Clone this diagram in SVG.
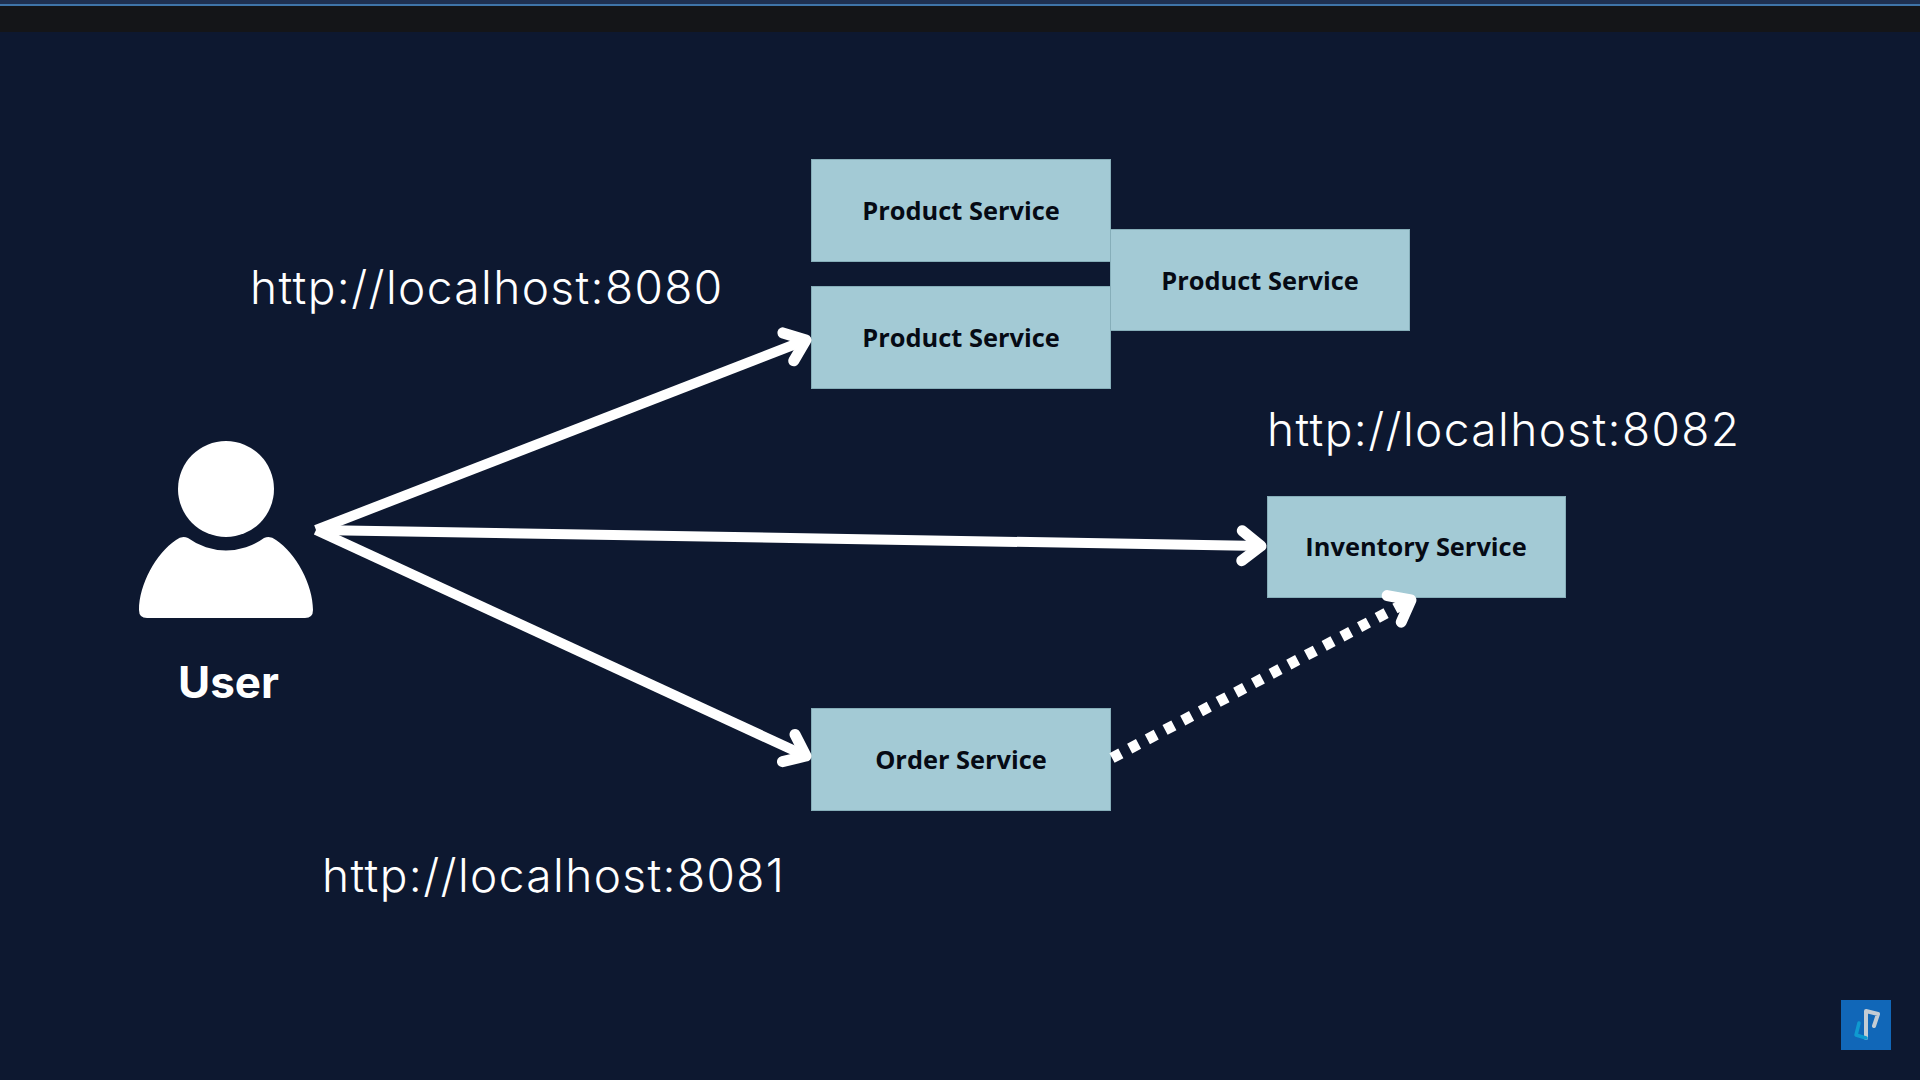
<svg xmlns="http://www.w3.org/2000/svg" width="1920" height="1080" viewBox="0 0 1920 1080">
<style>
.box{fill:#a3cad5;stroke:#86aeb9;stroke-width:1}
.lbl{font-family:"Open Sans","Noto Sans",sans-serif;font-weight:700;font-size:25.4px;fill:#060a14;text-anchor:middle}
.url{font-family:Inter,"Open Sans",sans-serif;font-weight:300;font-size:46px;letter-spacing:1.4px;fill:#fff}
.conn{stroke:#fff;stroke-width:10;fill:none;stroke-linecap:butt}
.dot{stroke-width:11;stroke-dasharray:10 10}
</style>
<defs>
<marker id="arrow" markerUnits="userSpaceOnUse" markerWidth="60" markerHeight="60" refX="40" refY="30" orient="auto" overflow="visible">
<path d="M21,15 L40,30 L21,45" fill="none" stroke="#fff" stroke-width="11" stroke-linecap="round" stroke-linejoin="round"/>
</marker>
</defs>
<rect width="1920" height="1080" fill="#0d1830"/>
<rect width="1920" height="4" fill="#1f3050"/>
<rect y="4" width="1920" height="2" fill="#3f74a8"/>
<rect y="6" width="1920" height="26" fill="#141518"/>
<g id="product-1"><rect class="box" x="811.500" y="159.500" width="299" height="102"/><text class="lbl" x="961" y="220">Product Service</text></g>
<g id="product-2"><rect class="box" x="811.500" y="286.500" width="299" height="102"/><text class="lbl" x="961" y="347">Product Service</text></g>
<g id="product-3"><rect class="box" x="1110.500" y="229.500" width="299" height="101"/><text class="lbl" x="1260" y="290">Product Service</text></g>
<g id="inventory"><rect class="box" x="1267.500" y="496.500" width="298" height="101"/><text class="lbl" x="1416" y="556">Inventory Service</text></g>
<g id="order"><rect class="box" x="811.500" y="708.500" width="299" height="102"/><text class="lbl" x="961" y="769">Order Service</text></g>
<g id="connectors">
<path class="conn" marker-end="url(#arrow)" d="M316,530 L806,340"/>
<path class="conn" marker-end="url(#arrow)" d="M316,530 L1261,546"/>
<path class="conn" marker-end="url(#arrow)" d="M316,530 L806,756"/>
<path class="conn dot" marker-end="url(#arrow)" d="M1112,758 L1411,600"/>
</g>
<g id="user">
<circle cx="226" cy="489" r="48" fill="#fff"/>
<path fill="#fff" d="M176,540 Q182,535 188,538 A64,64 0 0 0 264,538 Q270,535 276,540 C296,553 313,585 313,610 Q313,618 305,618 L147,618 Q139,618 139,610 C139,585 156,553 176,540 Z"/>
<text x="228.500" y="698" font-family="Inter,'Noto Sans',sans-serif" font-weight="700" font-size="44" fill="#fff" text-anchor="middle">User</text>
</g>
<text class="url" x="250" y="304">http://localhost:8080</text>
<text class="url" x="1267" y="446">http://localhost:8082</text>
<text class="url" x="322" y="892">http://localhost:8081</text>
<g id="badge">
<rect x="1841" y="1000" width="50" height="50" fill="#1167b8"/>
<path d="M1866,1038 V1011 L1878,1014 L1874,1026" fill="none" stroke="#c4ccd4" stroke-width="4" stroke-linecap="round" stroke-linejoin="round"/>
<path d="M1859,1023 L1856,1035 L1866,1038" fill="none" stroke="#0f9ad0" stroke-width="3.500" stroke-linecap="round" stroke-linejoin="round"/>
</g>
</svg>
